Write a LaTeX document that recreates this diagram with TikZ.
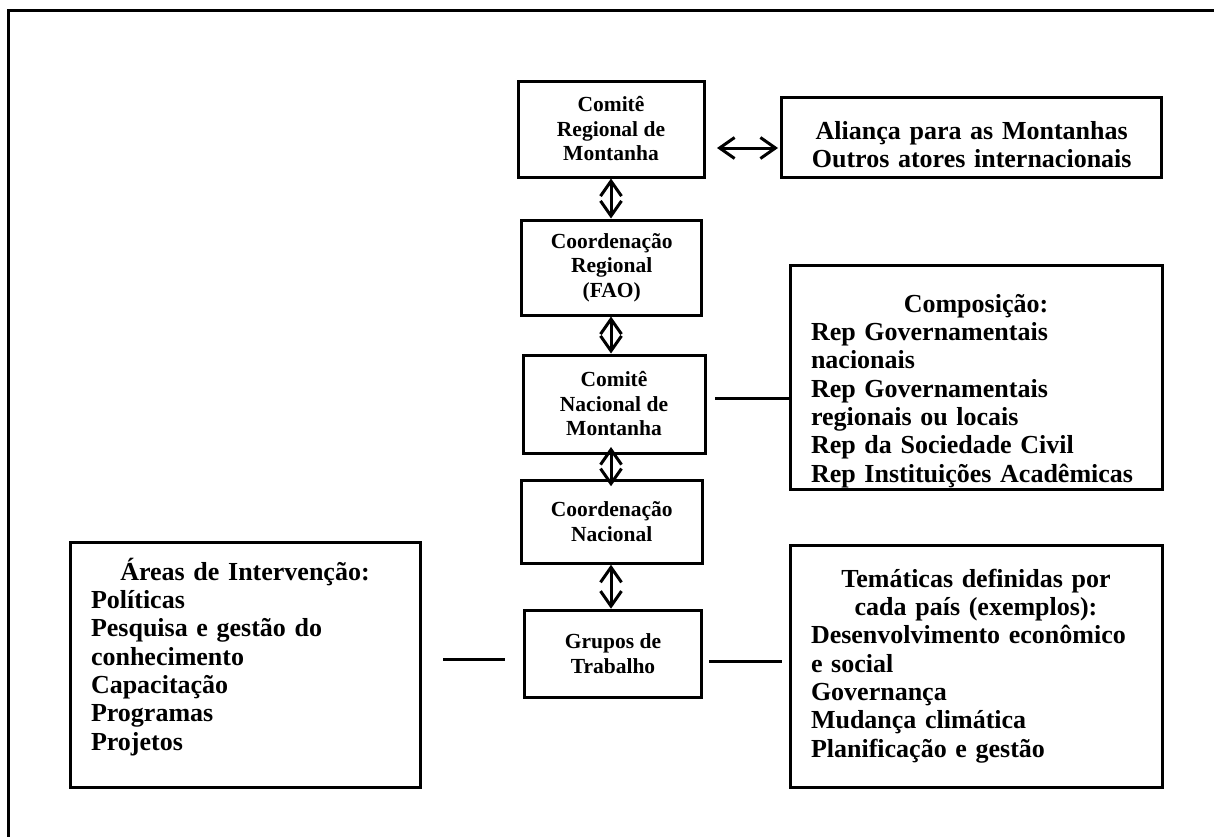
\documentclass[tikz,border=0pt]{standalone}
\usepackage{fontspec}
\setmainfont{Liberation Serif}
\usetikzlibrary{arrows.meta}
\setlength{\parindent}{0pt}

\begin{document}
\begin{tikzpicture}[x=1pt,y=-1pt,
  smallbox/.style={draw=black,line width=3pt,align=center,inner sep=0pt,
    font=\fontsize{21.5}{24.5}\selectfont\bfseries},
  bigbox/.style={draw=black,line width=3pt,align=left,inner xsep=21pt,inner ysep=0pt,
    font=\fontsize{26}{28.3}\selectfont\bfseries},
  dbl/.style={line width=3pt,{Straight Barb[length=15pt,width=21pt]}-{Straight Barb[length=15pt,width=21pt]}},
  link/.style={line width=3pt}]

\useasboundingbox (0,0) rectangle (1214,836);
\clip (0,0) rectangle (1214,836);

% outer frame
\draw[line width=2.4pt] (8.5,10.5) rectangle (1240,860);

% central column
\node[smallbox,minimum width=186,minimum height=96] (crm) at (611,129) {Comitê\\Regional de\\Montanha};
\node[smallbox,minimum width=180,minimum height=95] (creg) at (611.7,267.5) {Coordenação\\Regional\\(FAO)};
\node[smallbox,minimum width=182,minimum height=98] (cnm) at (614,404) {Comitê\\Nacional de\\Montanha};
\node[smallbox,minimum width=181,minimum height=83] (cnac) at (611.7,521.7) {Coordenação\\Nacional};
\node[smallbox,minimum width=177,minimum height=87] (gt) at (613,653.7) {Grupos de\\Trabalho};

% side boxes
\node[bigbox,align=center,text width=338,minimum height=80] (alianca) at (971.7,137) {\rule{0pt}{33pt}Aliança para as Montanhas\\Outros atores internacionais};
\node[bigbox,text width=330,minimum height=224] (comp) at (976,377) {\makebox[\hsize]{\rule{0pt}{46pt}Composição:}\\Rep Governamentais\\nacionais\\Rep Governamentais\\regionais ou locais\\Rep da Sociedade Civil\\Rep Instituições Acadêmicas};
\node[bigbox,text width=308,minimum height=245] (areas) at (245,664.5) {\makebox[\hsize]{Áreas de Intervenção:}\\Políticas\\Pesquisa e gestão do\\conhecimento\\Capacitação\\Programas\\Projetos\rule[-21pt]{0pt}{21pt}};
\node[bigbox,text width=330,minimum height=242] (tematicas) at (976,666) {\makebox[\hsize]{Temáticas definidas por}\\\makebox[\hsize]{cada país (exemplos):}\\Desenvolvimento econômico\\e social\\Governança\\Mudança climática\\Planificação e gestão};

% arrows
\draw[dbl] (crm.south) -- (crm.south |- creg.north);
\draw[dbl] (crm.south |- creg.south) -- (crm.south |- cnm.north);
\draw[dbl,shorten <=-7.5pt,shorten >=-7.5pt] (crm.south |- cnm.south) -- (crm.south |- cnac.north);
\draw[dbl] (crm.south |- cnac.south) -- (crm.south |- gt.north);

\coordinate (ha) at (717,148);
\coordinate (hb) at (778,148);
\draw[dbl] (ha) -- (hb);

% lines
\coordinate (cl) at (715,398);
\draw[link] (cl) -- (cl -| comp.west);
\coordinate (al) at (443,659);
\coordinate (ar) at (505,659);
\draw[link] (al) -- (ar);
\coordinate (tl) at (709,661);
\coordinate (tr) at (782,661);
\draw[link] (tl) -- (tr);

\end{tikzpicture}
\end{document}
